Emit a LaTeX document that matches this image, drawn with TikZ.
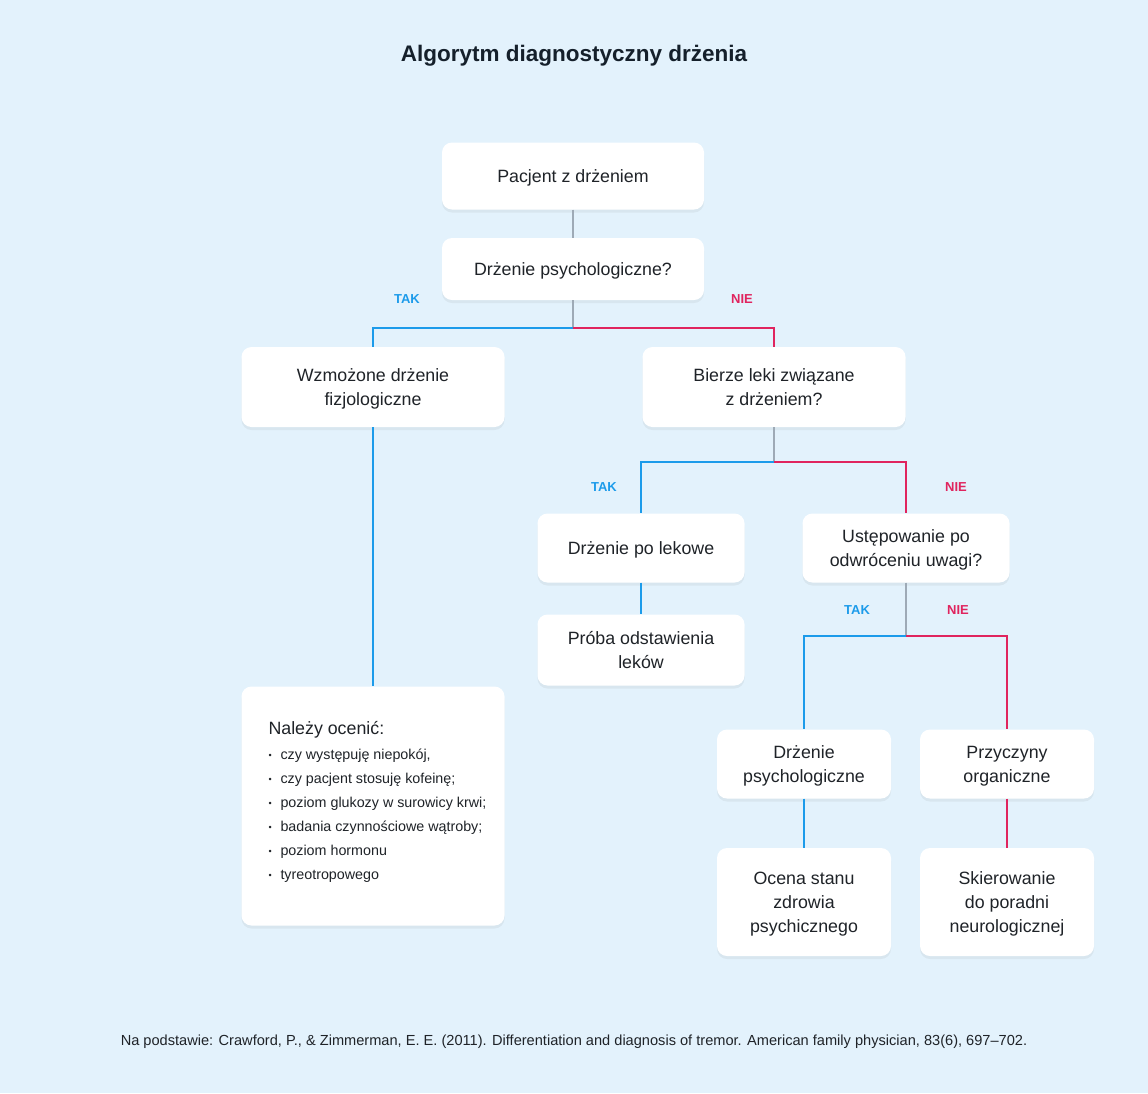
\documentclass[tikz,border=0pt]{standalone}
\usepackage{fontspec}
\setmainfont{Liberation Sans}
\usetikzlibrary{positioning,shadows}
\definecolor{bgblue}{HTML}{E3F2FC}
\definecolor{takblue}{HTML}{1C9BEA}
\definecolor{niered}{HTML}{E0245E}
\definecolor{linegray}{HTML}{9EAAB6}
\definecolor{txt}{HTML}{1F2328}
\definecolor{titletxt}{HTML}{15202B}
\newcommand{\punkt}{\makebox[12pt][l]{\raisebox{1pt}{\fontsize{9}{9}\selectfont•}}}

\begin{document}
\begin{tikzpicture}[x=1pt,y=-1pt,
  box/.style={fill=white, rounded corners=10pt, align=center, text=txt,
    font=\fontsize{17.8}{24}\selectfont, inner sep=0pt, text depth=0pt,
    drop shadow={opacity=0.10, shadow xshift=0pt, shadow yshift=-3pt}},
  tak/.style={text=takblue, font=\bfseries\fontsize{13}{16}\selectfont},
  nie/.style={text=niered, font=\bfseries\fontsize{13}{16}\selectfont},
  gline/.style={draw=linegray, line width=1.4pt},
  bline/.style={draw=takblue, line width=2pt},
  rline/.style={draw=niered, line width=2pt}]
\fill[bgblue] (0,0) rectangle (1148,1093);
\useasboundingbox (0,0) rectangle (1148,1093);

\node[text=titletxt, font=\bfseries\fontsize{22.5}{26}\selectfont] (title) at (574,56) {Algorytm diagnostyczny drżenia};

% gorna czesc
\node[box, minimum width=262, minimum height=67] (start) at (573,176) {Pacjent z drżeniem};
\node[box, minimum width=262, minimum height=62] (psych) at (573,269) {Drżenie psychologiczne?};
\node[box, minimum width=263, minimum height=80] (fizjo) at (373,387) {Wzmożone drżenie\\fizjologiczne};
\node[box, minimum width=263, minimum height=80] (leki) at (774,387) {Bierze leki związane\\z drżeniem?};
\coordinate (j1) at (573,328);
\node[tak] (tak1) at (407,299) {TAK};
\node[nie] (nie1) at (742,299) {NIE};

% srodek
\node[box, minimum width=207, minimum height=69] (polek) at (641,548) {Drżenie po lekowe};
\node[box, minimum width=207, minimum height=69] (uwaga) at (906,548) {Ustępowanie po\\odwróceniu uwagi?};
\node[box, minimum width=207, minimum height=71] (proba) at (641,650) {Próba odstawienia\\leków};
\coordinate (j2) at (774,462);
\node[tak] (tak2) at (604,487) {TAK};
\node[nie] (nie2) at (956,487) {NIE};

% dol
\node[box, minimum width=174, minimum height=69] (dpsych) at (804,764) {Drżenie\\psychologiczne};
\node[box, minimum width=174, minimum height=69] (organ) at (1007,764) {Przyczyny\\organiczne};
\node[box, minimum width=174, minimum height=108] (ocena) at (804,902) {Ocena stanu\\zdrowia\\psychicznego};
\node[box, minimum width=174, minimum height=108] (skier) at (1007,902) {Skierowanie\\do poradni\\neurologicznej};
\coordinate (j3) at (906,636);
\node[tak] (tak3) at (857,610) {TAK};
\node[nie] (nie3) at (958,610) {NIE};

% lista
\node[box, minimum width=263, minimum height=239] (lista) at (373,806) {};
\node[anchor=north west, align=left, text=txt, inner sep=0pt,
  font=\fontsize{14.3}{24}\selectfont] (listatxt) at ([xshift=27pt,yshift=-35pt]lista.north west)
  {{\fontsize{17.8}{24}\selectfont Należy ocenić:}\\[1pt]
   \punkt czy występuję niepokój,\\
   \punkt czy pacjent stosuję kofeinę;\\
   \punkt poziom glukozy w surowicy krwi;\\
   \punkt badania czynnościowe wątroby;\\
   \punkt poziom hormonu\\
   \punkt tyreotropowego};

\node[text=txt, font=\fontsize{14.6}{16}\selectfont] (zrodlo) at (574,1042)
  {Na podstawie: Crawford, P., \& Zimmerman, E. E. (2011). Differentiation and diagnosis of tremor. American family physician, 83(6), 697–702.};

% polaczenia
\draw[gline] (start) -- (psych);
\draw[gline] (psych) -- (j1);
\draw[bline] (j1) -| (fizjo.north);
\draw[rline] (j1) -| (leki.north);
\draw[bline] (fizjo) -- (lista);
\draw[gline] (leki) -- (j2);
\draw[bline] (j2) -| (polek.north);
\draw[rline] (j2) -| (uwaga.north);
\draw[bline] (polek) -- (proba);
\draw[gline] (uwaga) -- (j3);
\draw[bline] (j3) -| (dpsych.north);
\draw[rline] (j3) -| (organ.north);
\draw[bline] (dpsych) -- (ocena);
\draw[rline] (organ) -- (skier);

\end{tikzpicture}
\end{document}
